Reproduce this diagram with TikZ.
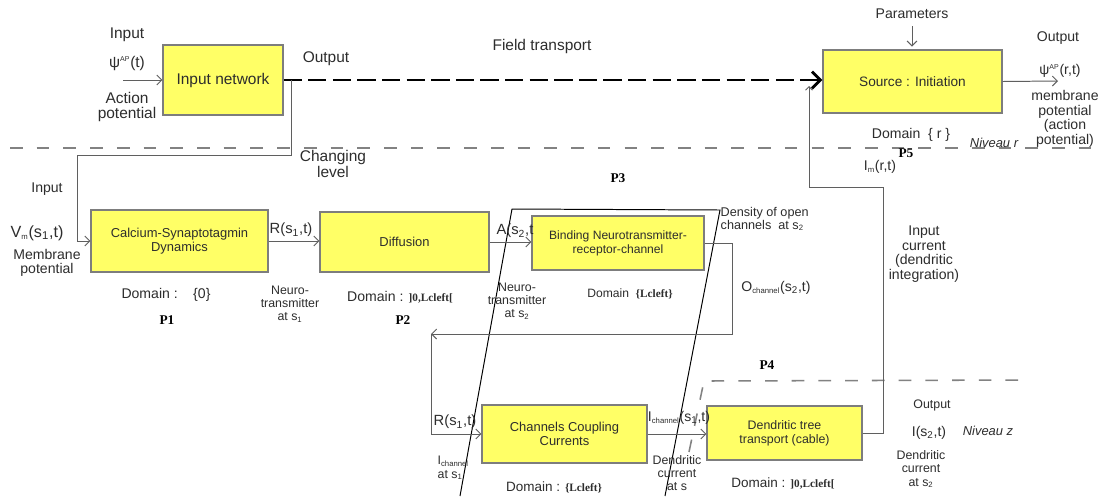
\documentclass[tikz,border=0pt]{standalone}
\usepackage{fontspec}
\setmainfont{Liberation Sans}
\newfontfamily\tagfont{Liberation Serif}
\usepackage{xcolor}
\usepackage{tikz}
\usetikzlibrary{arrows.meta,positioning}
\definecolor{boxfill}{RGB}{255, 255, 102}
\definecolor{boxedge}{RGB}{125, 125, 125}
\definecolor{wiregray}{RGB}{95, 95, 95}
\definecolor{levelgray}{RGB}{130, 130, 130}
\definecolor{inktext}{RGB}{45, 45, 45}
\newcommand{\upidx}[1]{\textsuperscript{\fontsize{5}{5}\selectfont #1}}
\newcommand{\dnidx}[1]{\textsubscript{\fontsize{5.5}{5.5}\selectfont #1}}
\newcommand{\domset}[1]{{\tagfont\bfseries\fontsize{8}{9}\selectfont #1}}

\begin{document}
\begin{tikzpicture}[
    x=0.025cm, y=-0.025cm,
    >={Straight Barb[length=3.5pt,width=7pt]},
    procbox/.style={draw=boxedge, fill=boxfill, line width=0.8pt, align=center, text=inktext, font=\fontsize{9.2}{10.2}\selectfont, inner sep=2pt},
    lbl/.style={align=center, text=inktext, font=\fontsize{10}{10.4}\selectfont, inner sep=1pt},
    biglbl/.style={lbl, font=\fontsize{11}{11}\selectfont},
    smalllbl/.style={lbl, font=\fontsize{8.8}{9.4}\selectfont},
    ptag/.style={font=\tagfont\bfseries\fontsize{9.5}{10}\selectfont, inner sep=1pt},
    signal/.style={->, wiregray, line width=0.7pt},
    link/.style={wiregray, line width=0.7pt},
    levelline/.style={levelgray, line width=1.1pt, dash pattern=on 9pt off 10pt},
    field/.style={-{Straight Barb[length=6pt,width=12pt]}, black, line width=2pt, dash pattern=on 13pt off 4.5pt},
    slantline/.style={black, line width=0.7pt}
]
\useasboundingbox (0,0) rectangle (1107,496);
\fill[white] (0,0) rectangle (1107,496);

% Level separators
\draw[levelline] (10,148) -- (1100,148);
\draw[levelline] (689,452) -- (704,381) -- (1030,380);

% Synapse region (slanted frame)
\draw[slantline] (460,496) -- (512,209) -- (720,210) -- (665,496);

% ==================== LEVEL r ====================
\node[procbox, minimum width=3cm, minimum height=1.75cm, font=\fontsize{11}{12}\selectfont] (inet) at (223,80) {Input network};
\node[procbox, minimum width=4.475cm, minimum height=1.575cm, font=\fontsize{9.7}{10.5}\selectfont] (src) at (912.5,81.5) {Source : Initiation};

\node[biglbl] (inlbl) at (127,35) {Input};
\node[biglbl] (psiin) at (127,63) {ψ\upidx{AP}(t)};
\node[biglbl] (aplbl) at (127,107) {Action\\potential};
\node[biglbl] (outlbl) at (326,59) {Output};
\node[biglbl] (fieldlbl) at (542,46) {Field transport};
\node[lbl] (param) at (912,14) {Parameters};
\node[lbl] (outr) at (1058,38) {Output};
\node[lbl] (psiout) at (1060,71) {ψ\upidx{AP}(r,t)};
\node[lbl] (memr) at (1065,119) {membrane\\potential\\(action\\potential)};
\node[lbl] (domr) at (911,135) {Domain\ \ \{ r \}};
\node[lbl, font=\itshape\fontsize{9.2}{10}\selectfont] (nivr) at (994,143) {Niveau r};
\node[ptag] (p5) at (906,153) {P5};
\node[lbl] (imlbl) at (880,167) {I\dnidx{m}(r,t)};
\node[biglbl] (chglbl) at (333,164) {Changing\\level};

% ==================== LEVEL z (upper row) ====================
\node[procbox, minimum width=4.425cm, minimum height=1.55cm] (calc) at (179.5,241) {Calcium-Synaptotagmin\\Dynamics};
\node[procbox, minimum width=4.225cm, minimum height=1.5cm] (diff) at (404.5,242) {Diffusion};
\node[procbox, minimum width=4.3cm, minimum height=1.35cm, font=\fontsize{8.6}{10}\selectfont] (bind) at (618,243) {Binding Neurotransmitter-\\receptor-channel};

\node[lbl] (in2lbl) at (47,189) {Input};
\node[lbl, font=\fontsize{11.5}{12}\selectfont] (vmlbl) at (37,233) {V\dnidx{m}(s\textsubscript{1},t)};
\node[lbl] (memlbl) at (47,263) {Membrane\\potential};
\node[lbl] (dom1) at (166,295) {Domain :\hspace{1.1em}\{0\}};
\node[ptag] (p1) at (167,320) {P1};
\node[lbl, font=\fontsize{10.5}{11}\selectfont] (rlbl) at (291,230) {R(s\textsubscript{1},t)};
\node[smalllbl] (nt1) at (290,304) {Neuro-\\transmitter\\at s\dnidx{1}};
\node[lbl] (dom2) at (400,297) {Domain : \domset{]0,Lcleft[}};
\node[ptag] (p2) at (403,320) {P2};
\node[lbl, font=\fontsize{10.5}{11}\selectfont] (albl) at (515,231) {A(s\textsubscript{2},t};
\node[smalllbl] (nt2) at (517,301) {Neuro-\\transmitter\\at s\dnidx{2}};
\node[lbl, font=\fontsize{8.6}{9}\selectfont] (dom3) at (630,294) {Domain\ \ \domset{\{Lcleft\}}};
\node[ptag] (p3) at (618,178) {P3};
\node[smalllbl, align=left, anchor=west, font=\fontsize{9}{9.5}\selectfont] (dens) at (719,219) {Density of open\\channels\ \ at s\dnidx{2}};
\node[lbl] (olbl) at (776,288) {O\dnidx{channel}(s\textsubscript{2},t)};
\node[lbl] (incur) at (924,254) {Input\\current\\(dendritic\\integration)};

% ==================== LEVEL z (lower row) ====================
\node[procbox, minimum width=4.125cm, minimum height=1.45cm] (chan) at (564.5,434) {Channels Coupling\\Currents};
\node[procbox, minimum width=3.875cm, minimum height=1.35cm, font=\fontsize{8.8}{10}\selectfont] (dend) at (784.5,433) {Dendritic tree\\transport (cable)};

\node[lbl, font=\fontsize{10.5}{11}\selectfont] (r2lbl) at (455,422) {R(s\textsubscript{1},t)};
\node[smalllbl, align=left, anchor=west] (ich1) at (436,468) {I\dnidx{channel}\\at s\dnidx{1}};
\node[lbl, font=\fontsize{9.6}{10}\selectfont] (dom4) at (554,487) {Domain : \domset{\{Lcleft\}}};
\node[lbl] (ichlbl) at (679,418) {I\dnidx{channel}(s\textsubscript{1},t)};
\node[smalllbl] (dc1) at (677,473) {Dendritic\\current\\at s};
\node[lbl, font=\fontsize{9.6}{10}\selectfont] (dom5) at (783,483) {Domain : \domset{]0,Lcleft[}};
\node[ptag] (p4) at (767,365) {P4};
\node[smalllbl] (outz) at (932,405) {Output};
\node[lbl] (ilbl) at (929,433) {I(s\textsubscript{2},t)};
\node[smalllbl] (dc2) at (921,469) {Dendritic\\current\\at s\dnidx{2}};
\node[lbl, font=\itshape\fontsize{9.2}{10}\selectfont] (nivz) at (988,431) {Niveau z};

% ==================== CONNECTORS ====================
\coordinate (apin) at (123,80);
\coordinate (apout) at (1058,81);
\coordinate (tap) at (291,80);
\coordinate (oturn) at (431,334);

% action potential in and out
\draw[signal] (apin) -- (inet.west);
\draw[signal] (src.east) -- (apout);
\draw[signal, shorten <=4pt, shorten >=2pt] (param.south) -- (param.south |- src.north);

% field transport
\draw[field] (inet.east) -- (inet.east -| src.west);

% changing level
\draw[signal] (tap) |- (77,155) |- (calc.west);

% upper chain
\draw[signal] (calc.east) -- (calc.east -| diff.west);
\draw[signal] (diff.east) -- (diff.east -| bind.west);
\draw[signal] (bind.east) -| (732,334) -- (oturn);
\draw[signal] (oturn) |- (chan.west);

% lower chain
\draw[signal] (chan.east) -- (chan.east -| dend.west);

% dendritic integration back to source
\draw[link, -{Straight Barb[length=2.5pt,width=5pt]}] (dend.east) -| (883,187) -| (809,86);

\end{tikzpicture}
\end{document}
